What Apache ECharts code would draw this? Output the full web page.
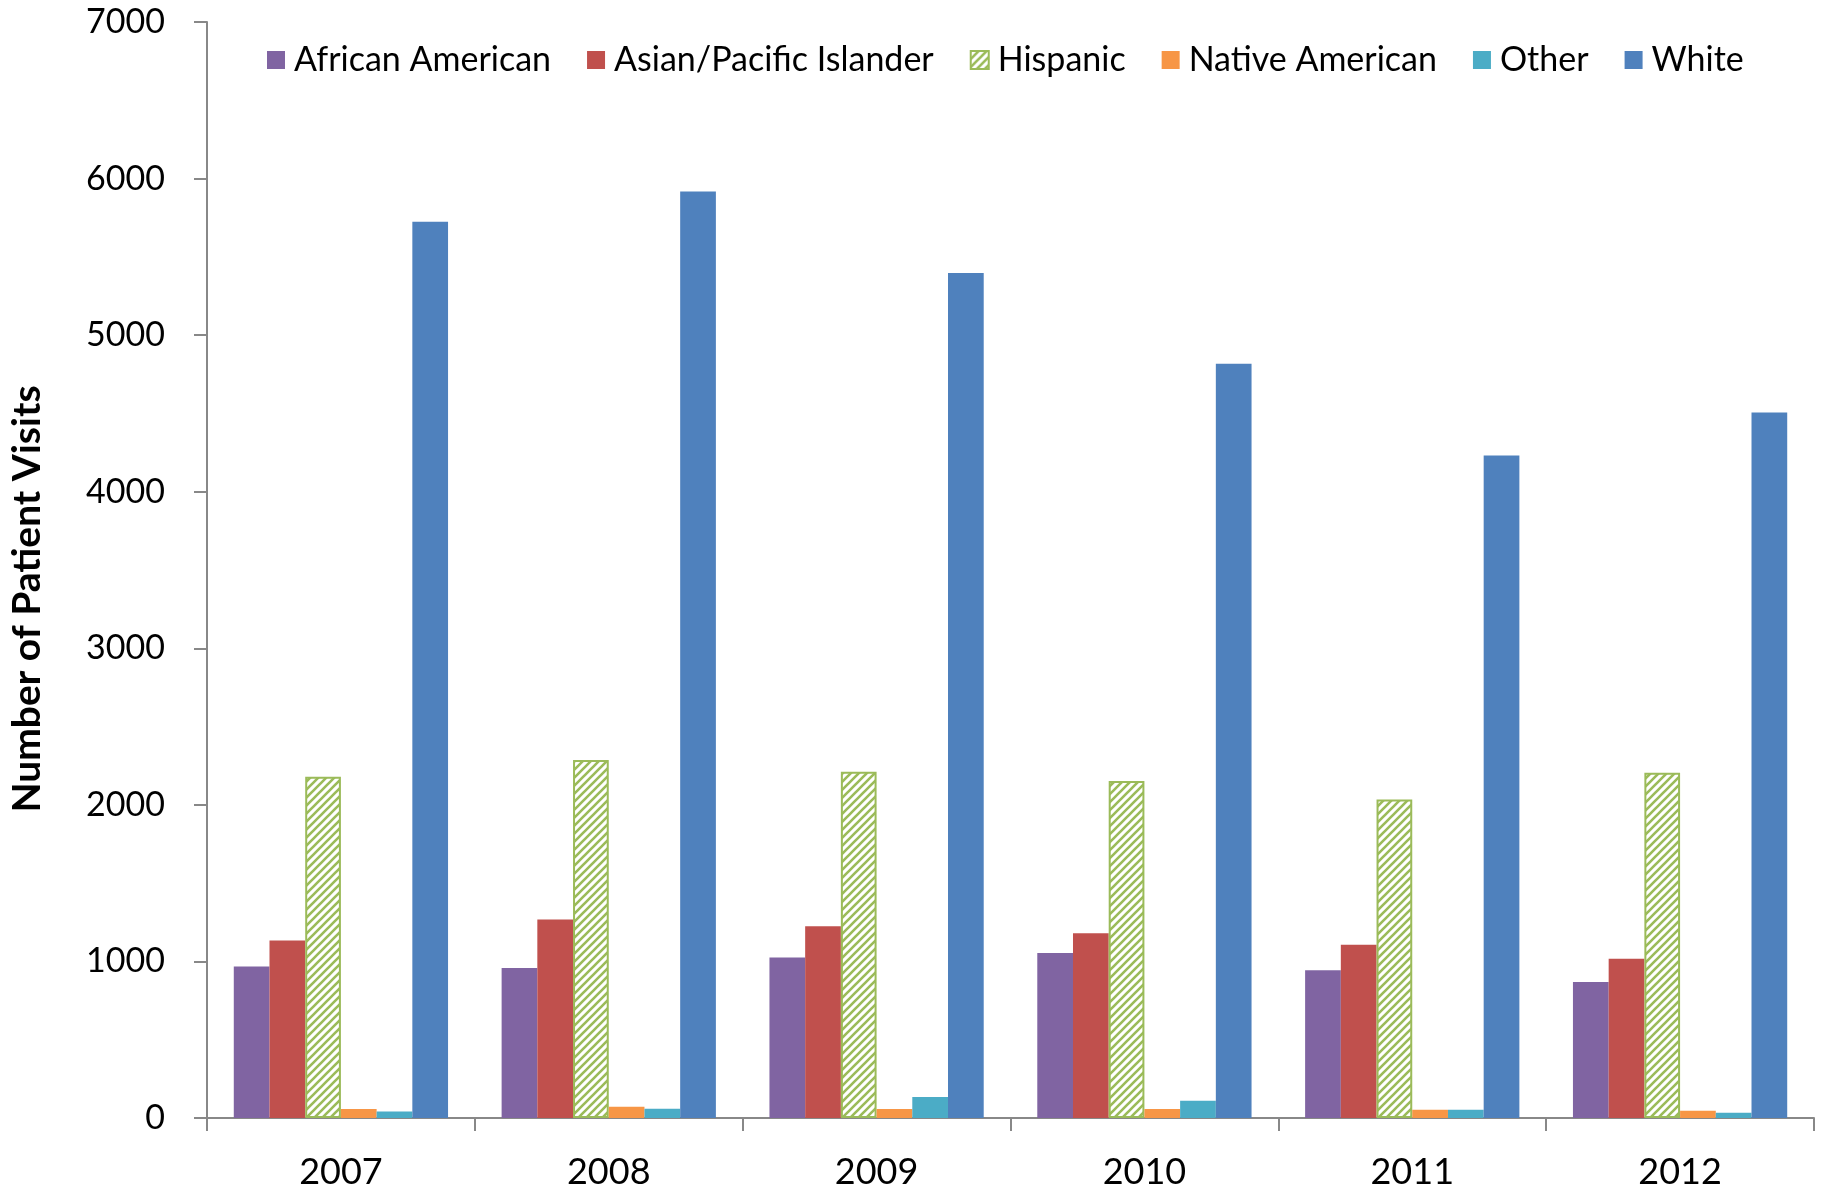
<!DOCTYPE html>
<html><head>
<meta charset="UTF-8">
<title>Patient Visits</title>
<script src="https://cdn.jsdelivr.net/npm/echarts@6/dist/echarts.min.js"></script>
<style>html,body{margin:0;padding:0;background:#fff;}#main{width:1823px;height:1193px;}</style>
</head>
<body>
<div id="main"></div>
<script>
var years = ['2007','2008','2009','2010','2011','2012'];
var africanAmerican = [968, 958, 1025, 1054, 943, 869];
var asianPacific = [1134, 1268, 1225, 1180, 1106, 1017];
var hispanic = [2180, 2287, 2212, 2153, 2034, 2205];
var nativeAmerican = [57, 72, 58, 58, 52, 46];
var other = [42, 59, 134, 110, 52, 34];
var white = [5724, 5917, 5397, 4818, 4232, 4506];

var FONT = 'Lato';

// diagonal stripe fill for Hispanic
function stripes() {
	var c = document.createElement('canvas');
	c.width = 8; c.height = 8;
	var g = c.getContext('2d');
	g.fillStyle = '#fff';
	g.fillRect(0, 0, 8, 8);
	g.strokeStyle = '#9BBB59';
	g.lineWidth = 2.6;
	g.beginPath();
	g.moveTo(-2, 10); g.lineTo(10, -2);
	g.moveTo(-2, 2); g.lineTo(2, -2);
	g.moveTo(6, 10); g.lineTo(10, 6);
	g.stroke();
	return c;
}

function bar(name, data, color) {
	return {name: name, type: 'bar', data: data, itemStyle: {color: color}};
}

var series = [
	bar('African American', africanAmerican, '#8064A2'),
	bar('Asian/Pacific Islander', asianPacific, '#C0504D'),
	{name: 'Hispanic', type: 'bar', data: hispanic,
		itemStyle: {color: {image: stripes(), repeat: 'repeat'}, borderColor: '#9BBB59', borderWidth: 2}},
	bar('Native American', nativeAmerican, '#F79646'),
	bar('Other', other, '#4BACC6'),
	bar('White', white, '#4F81BD')
];
series.forEach(function (s) { s.barGap = 0; s.barCategoryGap = '20%'; });

var chart = echarts.init(document.getElementById('main'));
chart.setOption({
	animation: false,
	textStyle: {fontFamily: FONT},
	grid: {left: 207, right: 9, top: 22, bottom: 75},
	legend: {
		top: 38, left: 262,
		icon: 'rect',
		itemWidth: 18, itemHeight: 18, itemGap: 36,
		textStyle: {fontSize: 34, color: '#000', fontFamily: FONT, padding: [0, 0, 0, 4]},
		data: series.map(function (s) { return s.name; })
	},
	xAxis: {
		type: 'category', data: years,
		axisLine: {lineStyle: {color: '#888', width: 2}},
		axisTick: {show: true, length: 13, lineStyle: {color: '#888', width: 2}},
		axisLabel: {fontSize: 36, color: '#000', margin: 36}
	},
	yAxis: {
		type: 'value', min: 0, max: 7000, interval: 1000,
		name: 'Number of Patient Visits', nameLocation: 'middle', nameGap: 160,
		nameTextStyle: {fontSize: 39, fontWeight: 'bold', color: '#000', padding: [0, 58, 0, 0]},
		axisLine: {show: true, lineStyle: {color: '#888', width: 2}},
		axisTick: {show: true, length: 13, lineStyle: {color: '#888', width: 2}},
		axisLabel: {fontSize: 34, color: '#000', margin: 42, formatter: function (v) { return String(v); }},
		splitLine: {show: false}
	},
	series: series
});
</script>
</body>
</html>
